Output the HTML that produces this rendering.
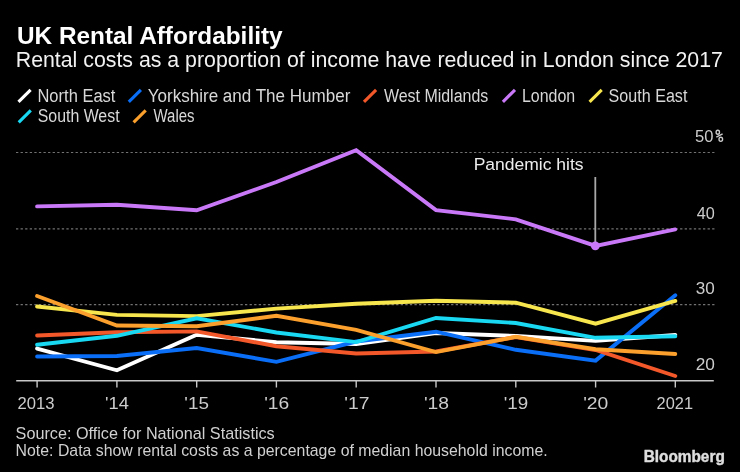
<!DOCTYPE html>
<html><head><meta charset="utf-8"><style>
html,body{margin:0;padding:0;background:#000;}
body{width:740px;height:472px;overflow:hidden;}
svg{display:block;will-change:transform;}
text{font-family:"Liberation Sans",sans-serif;}
</style></head><body>
<svg width="740" height="472" viewBox="0 0 740 472">
<rect width="740" height="472" fill="#000"/>
<text x="16.94" y="43.50" textLength="265.64" lengthAdjust="spacingAndGlyphs" style="font-size:23.0px;font-weight:bold;fill:#ffffff">UK Rental Affordability</text>
<text x="15.76" y="67.40" textLength="707.14" lengthAdjust="spacingAndGlyphs" style="font-size:22.0px;font-weight:normal;fill:#f2f2f2">Rental costs as a proportion of income have reduced in London since 2017</text>
<text x="37.46" y="101.70" textLength="77.96" lengthAdjust="spacingAndGlyphs" style="font-size:17.6px;font-weight:normal;fill:#d8d8d8">North East</text>
<text x="147.73" y="101.70" textLength="202.66" lengthAdjust="spacingAndGlyphs" style="font-size:17.6px;font-weight:normal;fill:#d8d8d8">Yorkshire and The Humber</text>
<text x="383.90" y="101.70" textLength="104.36" lengthAdjust="spacingAndGlyphs" style="font-size:17.6px;font-weight:normal;fill:#d8d8d8">West Midlands</text>
<text x="521.89" y="101.70" textLength="53.26" lengthAdjust="spacingAndGlyphs" style="font-size:17.6px;font-weight:normal;fill:#d8d8d8">London</text>
<text x="608.58" y="101.70" textLength="78.79" lengthAdjust="spacingAndGlyphs" style="font-size:17.6px;font-weight:normal;fill:#d8d8d8">South East</text>
<text x="37.70" y="122.30" textLength="81.86" lengthAdjust="spacingAndGlyphs" style="font-size:17.6px;font-weight:normal;fill:#d8d8d8">South West</text>
<text x="153.50" y="122.30" textLength="41.00" lengthAdjust="spacingAndGlyphs" style="font-size:17.6px;font-weight:normal;fill:#d8d8d8">Wales</text>
<text x="694.91" y="142.20" textLength="18.45" lengthAdjust="spacingAndGlyphs" style="font-size:16.8px;font-weight:normal;fill:#cccccc">50</text>
<text x="696.80" y="218.60" textLength="18.05" lengthAdjust="spacingAndGlyphs" style="font-size:16.8px;font-weight:normal;fill:#cccccc">40</text>
<text x="695.78" y="294.20" textLength="19.00" lengthAdjust="spacingAndGlyphs" style="font-size:16.8px;font-weight:normal;fill:#cccccc">30</text>
<text x="695.77" y="370.20" textLength="19.22" lengthAdjust="spacingAndGlyphs" style="font-size:16.8px;font-weight:normal;fill:#cccccc">20</text>
<text x="17.41" y="409.00" textLength="37.03" lengthAdjust="spacingAndGlyphs" style="font-size:16.8px;font-weight:normal;fill:#cccccc">2013</text>
<text x="105.01" y="409.00" textLength="23.85" lengthAdjust="spacingAndGlyphs" style="font-size:16.8px;font-weight:normal;fill:#cccccc">'14</text>
<text x="184.38" y="409.00" textLength="24.61" lengthAdjust="spacingAndGlyphs" style="font-size:16.8px;font-weight:normal;fill:#cccccc">'15</text>
<text x="264.16" y="409.00" textLength="25.05" lengthAdjust="spacingAndGlyphs" style="font-size:16.8px;font-weight:normal;fill:#cccccc">'16</text>
<text x="344.25" y="409.00" textLength="25.16" lengthAdjust="spacingAndGlyphs" style="font-size:16.8px;font-weight:normal;fill:#cccccc">'17</text>
<text x="423.95" y="409.00" textLength="25.16" lengthAdjust="spacingAndGlyphs" style="font-size:16.8px;font-weight:normal;fill:#cccccc">'18</text>
<text x="503.78" y="409.00" textLength="24.50" lengthAdjust="spacingAndGlyphs" style="font-size:16.8px;font-weight:normal;fill:#cccccc">'19</text>
<text x="583.15" y="409.00" textLength="25.16" lengthAdjust="spacingAndGlyphs" style="font-size:16.8px;font-weight:normal;fill:#cccccc">'20</text>
<text x="656.62" y="409.00" textLength="36.41" lengthAdjust="spacingAndGlyphs" style="font-size:16.8px;font-weight:normal;fill:#cccccc">2021</text>
<text x="473.66" y="169.50" textLength="109.97" lengthAdjust="spacingAndGlyphs" style="font-size:16.8px;font-weight:normal;fill:#eeeeee">Pandemic hits</text>
<text x="15.60" y="439.00" textLength="259.11" lengthAdjust="spacingAndGlyphs" style="font-size:16.2px;font-weight:normal;fill:#d0d0d0">Source: Office for National Statistics</text>
<text x="15.62" y="455.80" textLength="532.05" lengthAdjust="spacingAndGlyphs" style="font-size:16.2px;font-weight:normal;fill:#d0d0d0">Note: Data show rental costs as a percentage of median household income.</text>
<text x="643.68" y="462.30" textLength="81.11" lengthAdjust="spacingAndGlyphs" style="font-size:16.7px;font-weight:bold;fill:#dedede;stroke:#dedede;stroke-width:0.45px">Bloomberg</text>
<g stroke-width="3.1">
<line x1="18.50" y1="101.80" x2="30.60" y2="89.80" stroke="#ffffff"/>
<line x1="128.80" y1="101.80" x2="140.90" y2="89.80" stroke="#0a6ef7"/>
<line x1="364.00" y1="101.80" x2="376.10" y2="89.80" stroke="#f2582a"/>
<line x1="502.90" y1="101.80" x2="515.00" y2="89.80" stroke="#c979f7"/>
<line x1="589.60" y1="101.80" x2="601.70" y2="89.80" stroke="#f8e64e"/>
<line x1="18.70" y1="122.30" x2="30.80" y2="110.30" stroke="#18d8f2"/>
<line x1="133.60" y1="122.30" x2="145.70" y2="110.30" stroke="#fb9f2d"/>
</g>
<g stroke="#727272" stroke-width="1.2" stroke-dasharray="2.3 2.28">
<line x1="16" y1="152.5" x2="714.5" y2="152.5"/>
<line x1="16" y1="228.9" x2="714.5" y2="228.9"/>
<line x1="16" y1="304.6" x2="714.5" y2="304.6"/>
</g>
<g stroke="#c8c8c8" stroke-width="1.4">
<line x1="16.2" y1="380.8" x2="713.8" y2="380.8"/>
<line x1="37.1" y1="381" x2="37.1" y2="387.5"/>
<line x1="116.9" y1="381" x2="116.9" y2="387.5"/>
<line x1="196.7" y1="381" x2="196.7" y2="387.5"/>
<line x1="276.4" y1="381" x2="276.4" y2="387.5"/>
<line x1="356.2" y1="381" x2="356.2" y2="387.5"/>
<line x1="436.0" y1="381" x2="436.0" y2="387.5"/>
<line x1="515.8" y1="381" x2="515.8" y2="387.5"/>
<line x1="595.6" y1="381" x2="595.6" y2="387.5"/>
<line x1="675.3" y1="381" x2="675.3" y2="387.5"/>
</g>
<g fill="none" stroke="#cccccc" stroke-width="1.35"><ellipse cx="717.8" cy="132.2" rx="1.7" ry="2.0"/><ellipse cx="720.8" cy="139.3" rx="1.8" ry="2.1"/><line x1="716.3" y1="137.2" x2="722.6" y2="133.8"/></g>
<line x1="595.3" y1="177" x2="595.3" y2="245" stroke="#a8a8a8" stroke-width="1.8"/>
<g fill="none" stroke-width="3.9" stroke-linecap="round" stroke-linejoin="miter">
<polyline points="37.1,348.6 116.9,370.3 196.7,334.7 276.4,342.2 356.2,344.0 436.0,333.0 515.8,336.0 595.6,340.9 675.3,335.0" stroke="#ffffff"/>
<polyline points="37.1,356.5 116.9,356.0 196.7,348.0 276.4,361.8 356.2,341.5 436.0,331.7 515.8,349.8 595.6,360.6 675.3,295.2" stroke="#0a6ef7"/>
<polyline points="37.1,335.5 116.9,332.2 196.7,331.4 276.4,346.2 356.2,353.5 436.0,351.5 515.8,337.0 595.6,350.0 675.3,376.0" stroke="#f2582a"/>
<polyline points="37.1,206.4 116.9,204.7 196.7,210.3 276.4,182.0 356.2,150.3 436.0,210.1 515.8,219.3 595.6,245.9 675.3,229.4" stroke="#c979f7"/>
<polyline points="37.1,306.5 116.9,314.9 196.7,316.1 276.4,308.6 356.2,303.8 436.0,300.8 515.8,302.7 595.6,323.7 675.3,300.9" stroke="#f8e64e"/>
<polyline points="37.1,344.7 116.9,335.8 196.7,318.3 276.4,332.5 356.2,342.1 436.0,318.0 515.8,323.0 595.6,337.8 675.3,336.3" stroke="#18d8f2"/>
<polyline points="37.1,296.0 116.9,325.5 196.7,326.3 276.4,315.8 356.2,329.9 436.0,352.1 515.8,336.8 595.6,349.2 675.3,354.0" stroke="#fb9f2d"/>
</g>
<circle cx="595.3" cy="245.8" r="4.4" fill="#c979f7"/>
</svg>
</body></html>
